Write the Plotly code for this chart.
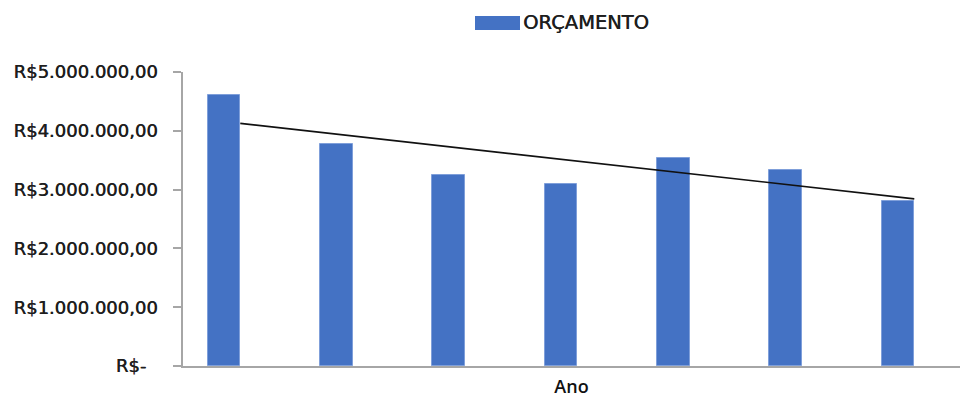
import numpy as np
import plotly.graph_objects as go

# ---- data ----
categories = ["1", "2", "3", "4", "5", "6", "7"]          # x-axis categories (labels not shown in the chart)
orcamento = [4610000, 3770000, 3240000, 3100000, 3530000, 3330000, 2810000]
series_name = "ORÇAMENTO"
y_tickvals = [0, 1000000, 2000000, 3000000, 4000000, 5000000]
y_ticktext = ["R$-\u00a0\u00a0", "R$1.000.000,00", "R$2.000.000,00",
              "R$3.000.000,00", "R$4.000.000,00", "R$5.000.000,00"]
x_title = "Ano"

# ---- styles ----
BAR_COLOR = "#4472C4"
AXIS_COLOR = "#A6A6A6"
TEXT_COLOR = "#1e1e1e"
TEXT_SHADOW = "0.5px 0 0 #1e1e1e"   # slight faux-semibold to match the heavier reference glyphs
bar_width = 0.29

x = np.arange(len(categories))
coef = np.polyfit(x, orcamento, 1)
trend = np.polyval(coef, x)

fig = go.Figure()
fig.add_trace(go.Bar(
    x=x, y=orcamento, name=series_name, width=bar_width,
    marker=dict(color=BAR_COLOR, line=dict(color="#7F9FDA", width=1)),
    showlegend=False, hoverinfo="y",
))
# linear trendline (drawn from the right edge of the first bar to the right edge of the last)
fig.add_trace(go.Scatter(
    x=x + bar_width / 2, y=trend, mode="lines",
    line=dict(color="#111111", width=1.6), showlegend=False, hoverinfo="skip",
))

L, R, T, B = 183, 0, 72, 32
W, H = 960, 398
plot_w = W - L - R
plot_h = H - T - B

def px_to_paper_x(px):
    return (px - L) / plot_w

def px_to_paper_y(py):
    return (H - B - py) / plot_h

# legend drawn as swatch + text
fig.add_shape(type="rect", xref="paper", yref="paper",
              x0=px_to_paper_x(475), x1=px_to_paper_x(520),
              y0=px_to_paper_y(30), y1=px_to_paper_y(16),
              fillcolor=BAR_COLOR, line=dict(width=0))
fig.add_annotation(text=series_name, xref="paper", yref="paper",
                   x=px_to_paper_x(521), y=px_to_paper_y(23),
                   xanchor="left", yanchor="middle", showarrow=False,
                   font=dict(family="DejaVu Sans", size=19.5, color=TEXT_COLOR,
                             shadow=TEXT_SHADOW))

fig.update_layout(
    width=W, height=H,
    margin=dict(l=L, r=R, t=T, b=B, pad=0),
    plot_bgcolor="white", paper_bgcolor="white",
    bargap=0,
)
fig.update_xaxes(
    range=[(L - 224) / 112.33, (W - 224) / 112.33],
    showgrid=False, zeroline=False, showticklabels=False, ticks="",
    showline=True, linecolor=AXIS_COLOR, linewidth=1.5,
    title=dict(text=x_title, standoff=29,
               font=dict(family="Open Sans", size=18, weight=600, color="#111111")),
    automargin=False,
)
fig.update_yaxes(
    range=[0, 5000000], tickvals=y_tickvals, ticktext=y_ticktext,
    showgrid=False, zeroline=False,
    showline=True, linecolor=AXIS_COLOR, linewidth=1.5,
    ticks="outside", ticklen=8, tickcolor=AXIS_COLOR, tickwidth=1.5,
    ticklabelstandoff=12,
    tickfont=dict(family="DejaVu Sans", size=18, color=TEXT_COLOR, shadow=TEXT_SHADOW),
    automargin=False,
)

fig.write_html("out.html")
